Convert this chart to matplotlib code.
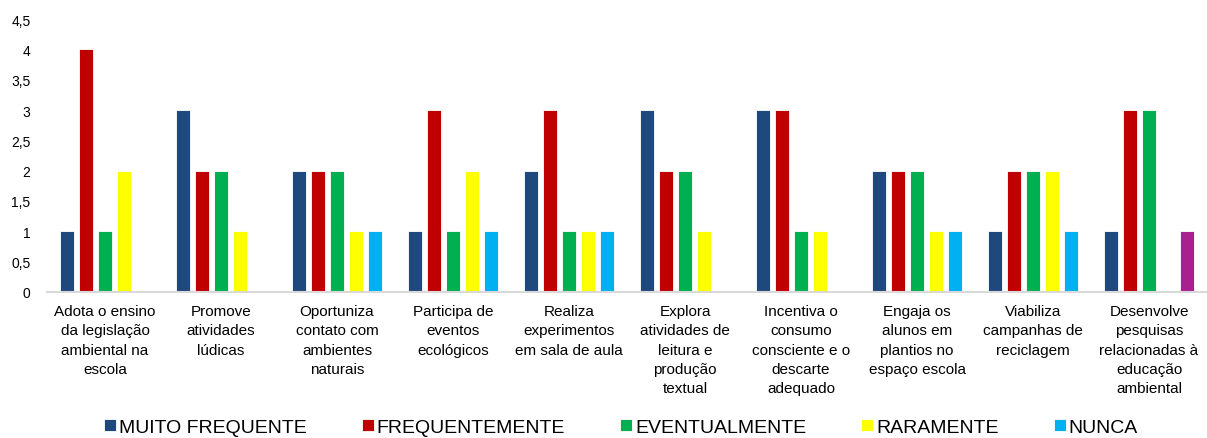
import numpy as np
import matplotlib.pyplot as plt
from matplotlib.ticker import FuncFormatter, MultipleLocator

plt.rcParams['font.family'] = ['Liberation Sans', 'DejaVu Sans']

# categorias (eixo x)
categorias = [
    "Adota o ensino\nda legislação\nambiental na\nescola",
    "Promove\natividades\nlúdicas",
    "Oportuniza\ncontato com\nambientes\nnaturais",
    "Participa de\neventos\necológicos",
    "Realiza\nexperimentos\nem sala de aula",
    "Explora\natividades de\nleitura e\nprodução\ntextual",
    "Incentiva o\nconsumo\nconsciente e o\ndescarte\nadequado",
    "Engaja os\nalunos em\nplantios no\nespaço escola",
    "Viabiliza\ncampanhas de\nreciclagem",
    "Desenvolve\npesquisas\nrelacionadas à\neducação\nambiental",
]

series = ["MUITO FREQUENTE", "FREQUENTEMENTE", "EVENTUALMENTE", "RARAMENTE", "NUNCA"]
muito_frequente = [1, 3, 2, 1, 2, 3, 3, 2, 1, 1]
frequentemente = [4, 2, 2, 3, 3, 2, 3, 2, 2, 3]
eventualmente = [1, 2, 2, 1, 1, 2, 1, 2, 2, 3]
raramente = [2, 1, 1, 2, 1, 1, 1, 1, 2, 0]
nunca = [0, 0, 1, 1, 1, 0, 0, 1, 1, 1]

cores = ["#1F497D", "#C00000", "#00B050", "#FFFF00", "#00B0F0"]

valores = [muito_frequente, frequentemente, eventualmente, raramente, nunca]

fig = plt.figure(figsize=(12.07, 4.39), dpi=100)
ax = fig.add_axes([0.039, 0.333, 0.961, 0.621])

x = np.arange(len(categorias))
largura = 0.12
passo = 0.164
for i, (nome, vals, cor) in enumerate(zip(series, valores, cores)):
    cs = [cor] * len(vals)
    if nome == "NUNCA":
        cs[-1] = "#A91F8F"  # ultimo ponto com cor destacada
    ax.bar(x + (i - 2) * passo, vals, width=largura, color=cs,
           edgecolor="white", linewidth=0.6, label=nome)

ax.set_xlim(-0.5, len(categorias) - 0.5)
ax.set_ylim(0, 4.5)
ax.yaxis.set_major_locator(MultipleLocator(0.5))
ax.yaxis.set_major_formatter(FuncFormatter(lambda v, p: ("%g" % v).replace(".", ",")))

for s in ["top", "right", "left"]:
    ax.spines[s].set_visible(False)
ax.spines["bottom"].set_color("#D9D9D9")
ax.spines["bottom"].set_linewidth(1.5)

ax.set_xticks(x)
ax.set_xticklabels(categorias, fontsize=11, linespacing=1.47, va="top")
ax.tick_params(axis="x", length=0, pad=9)
ax.tick_params(axis="y", length=0, labelsize=10, pad=12)

leg = ax.legend(loc="center", bbox_to_anchor=(0.5145, 0.025),
                bbox_transform=fig.transFigure, ncol=5,
                frameon=False, fontsize=14, handlelength=0.6, handleheight=0.6,
                handletextpad=0.15, columnspacing=2.85, borderpad=0)
# o quadrado da legenda de NUNCA segue a cor da serie
leg.legend_handles[4].set_facecolor(cores[4])

fig.savefig("out.png", dpi=100)
